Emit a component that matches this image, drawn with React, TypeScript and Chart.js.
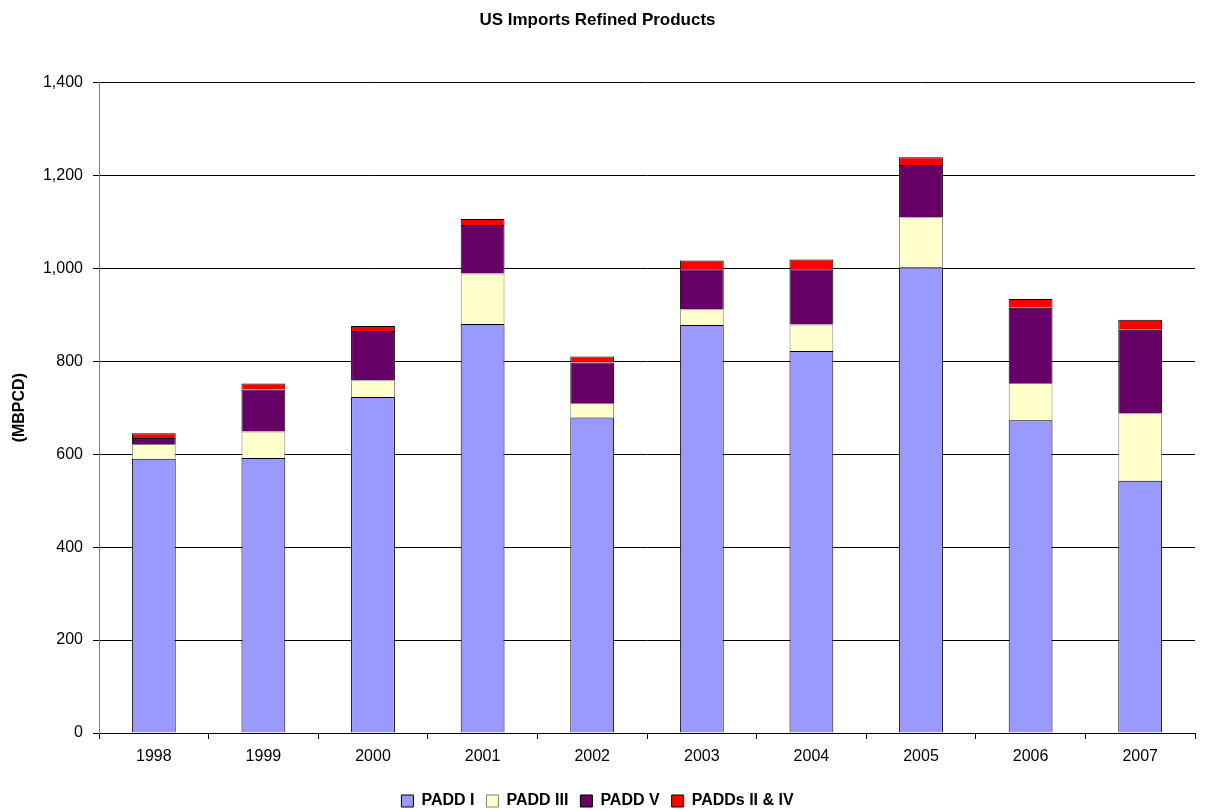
import React, { useEffect, useRef } from "react";
import { Chart, registerables } from "chart.js";

Chart.register(...registerables);

const categories = ["1998", "1999", "2000", "2001", "2002", "2003", "2004", "2005", "2006", "2007"];
const padd1 = [590, 592, 723, 880, 679, 878, 822, 1002, 673, 543];
const padd3 = [32, 57, 36, 109, 31, 34, 57, 108, 80, 145];
const padd5 = [13, 90, 106, 104, 87, 86, 119, 112, 162, 180];
const padd2and4 = [10, 13, 11, 13, 13, 19, 21, 17, 19, 21];
const yTicks = [0, 200, 400, 600, 800, 1000, 1200, 1400];

const FONT = "Arial, 'Liberation Sans', sans-serif";

export default function App() {
  const ref = useRef<HTMLCanvasElement | null>(null);
  useEffect(() => {
    if (!ref.current) return;
    const chart = new Chart(ref.current, {
      type: "bar",
      data: {
        labels: categories,
        datasets: [
          { label: "PADD I", data: padd1, backgroundColor: "#9999FF", borderColor: "#000000", borderWidth: 1 },
          { label: "PADD III", data: padd3, backgroundColor: "#FFFFCC", borderColor: "#808080", borderWidth: 1 },
          { label: "PADD V", data: padd5, backgroundColor: "#660066", borderColor: "#000000", borderWidth: 1 },
          { label: "PADDs II & IV", data: padd2and4, backgroundColor: "#FF0000", borderColor: "#000000", borderWidth: 1 },
        ],
      },
      options: {
        animation: false,
        responsive: false,
        maintainAspectRatio: false,
        layout: { padding: { left: 0, right: 13, top: 0, bottom: -8 } },
        datasets: { bar: { categoryPercentage: 1, barPercentage: 0.4 } },
        plugins: {
          title: {
            display: true,
            text: "US Imports Refined Products",
            color: "#000",
            font: { family: FONT, size: 17, weight: "bold" },
            padding: { top: 10, bottom: 52 },
          },
          legend: {
            position: "bottom",
            labels: {
              color: "#000",
              font: { family: FONT, size: 16, weight: "bold" },
              boxWidth: 12,
              boxHeight: 12,
              padding: 12,
            },
          },
          tooltip: { enabled: false },
        },
        scales: {
          x: {
            stacked: true,
            offset: true,
            grid: {
              display: true,
              offset: true,
              drawOnChartArea: false,
              drawTicks: true,
              tickLength: 6,
              color: "#000",
            },
            border: { display: true, color: "#000" },
            ticks: { color: "#000", font: { family: FONT, size: 16 }, padding: 8 },
            afterFit: (s: any) => { s.height = 48; },
          },
          y: {
            stacked: true,
            min: 0,
            max: 1400,
            afterBuildTicks: (s: any) => { s.ticks = yTicks.map((v) => ({ value: v })); },
            grid: { color: "#000", tickLength: 6, lineWidth: 1 },
            border: { display: true, color: "#808080" },
            ticks: {
              color: "#000",
              font: { family: FONT, size: 16 },
              padding: 10,
              callback: (v: any) => Number(v).toLocaleString("en-US"),
            },
            title: {
              display: true,
              text: "(MBPCD)",
              color: "#000",
              font: { family: FONT, size: 16, weight: "bold" },
              padding: { top: 10, bottom: 4 },
            },
            afterFit: (s: any) => { s.width = 99; },
          },
        },
      },
    });
    return () => chart.destroy();
  }, []);
  return (
    <div style={{ position: "absolute", left: 0, top: 0, width: 1208, height: 811, background: "#fff" }}>
      <canvas ref={ref} width={1208} height={811} style={{ display: "block" }} />
    </div>
  );
}
